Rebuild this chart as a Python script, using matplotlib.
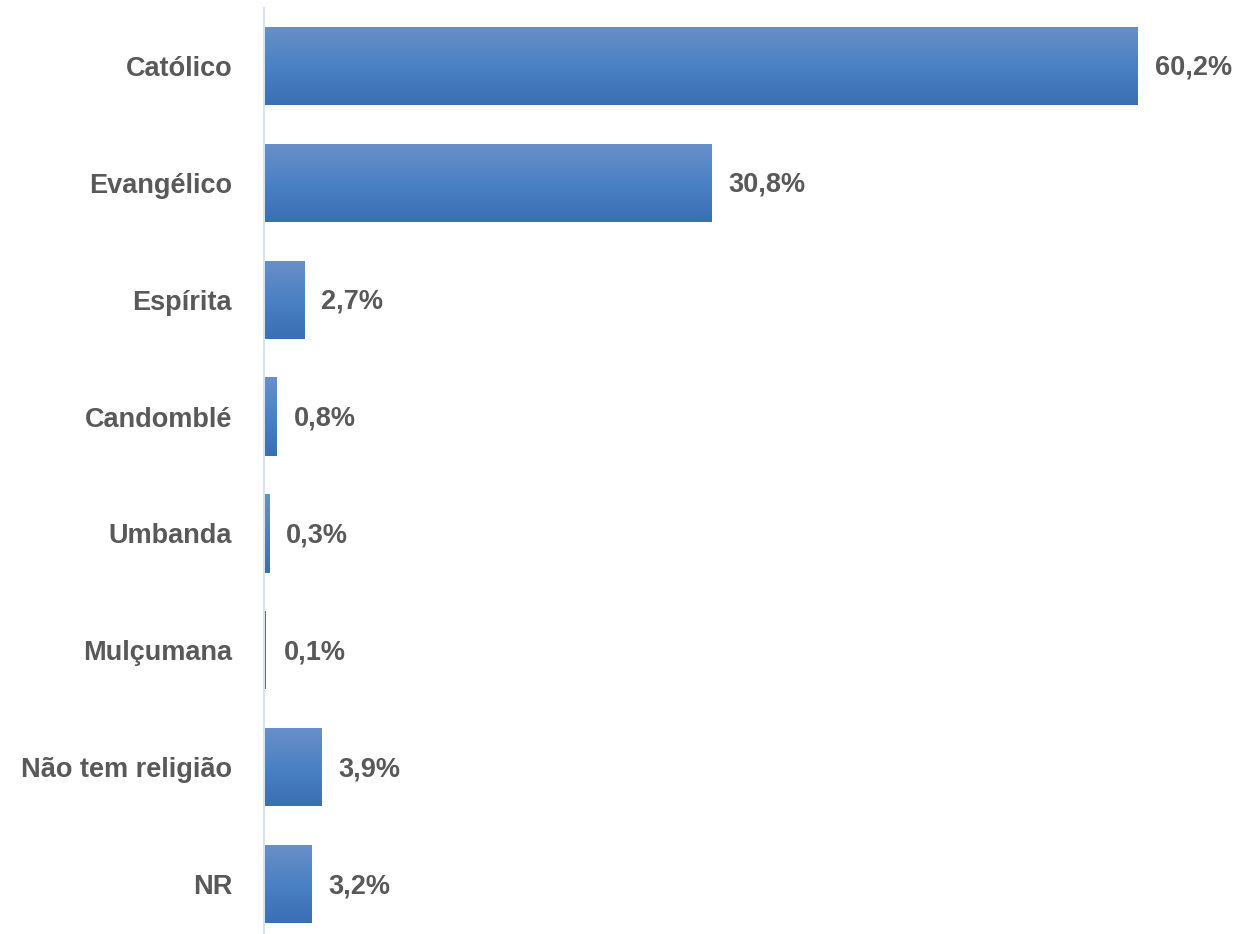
import matplotlib
matplotlib.use("Agg")
import matplotlib.pyplot as plt
import numpy as np
from matplotlib import font_manager
from matplotlib.colors import LinearSegmentedColormap

categories = ["Católico", "Evangélico", "Espírita", "Candomblé", "Umbanda",
              "Mulçumana", "Não tem religião", "NR"]
values = [60.2, 30.8, 2.7, 0.8, 0.3, 0.1, 3.9, 3.2]
value_labels = ["60,2%", "30,8%", "2,7%", "0,8%", "0,3%", "0,1%", "3,9%", "3,2%"]

names = {f.name for f in font_manager.fontManager.ttflist}
fam = ["Liberation Sans Narrow"] if "Liberation Sans Narrow" in names else ["Liberation Sans", "DejaVu Sans"]
plt.rcParams["font.family"] = fam + ["DejaVu Sans"]
FS = 19.5

W, H = 1237, 934
fig = plt.figure(figsize=(W / 100, H / 100), dpi=100)
left_px, top_px = 264, 7.5
ax = fig.add_axes([left_px / W, 0, (W - left_px) / W, (H - top_px) / H])

y = np.arange(len(categories))
bars = ax.barh(y, values, height=0.67, color="#3f75ba", linewidth=0, zorder=3)

cmap = LinearSegmentedColormap.from_list("g", ["#6a8fc8", "#4b82c5", "#3a6fb2"])
grad = np.linspace(0, 1, 256).reshape(-1, 1)
for b in bars:
    x0, y0 = b.get_x(), b.get_y()
    w, h = b.get_width(), b.get_height()
    if w * 14.5 < 3:
        continue
    im = ax.imshow(grad, cmap=cmap, aspect="auto", extent=(x0, x0 + w, y0 + h, y0),
                   interpolation="bilinear", zorder=4)
    im.set_clip_path(b)

ax.set_xlim(-1 / 14.5, (W - left_px - 1) / 14.5)
ax.set_ylim(7 + (H - 884) / 117, -0.5)

for yi, v, lab in zip(y, values, value_labels):
    ax.annotate(lab, (v, yi), xytext=(17, -2), textcoords="offset pixels",
                va="center", ha="left", fontsize=FS, fontweight="bold", color="#595959")

ax.set_yticks(y)
ax.set_yticklabels(categories, fontsize=FS, fontweight="bold", color="#595959")
ax.tick_params(axis="y", length=0, pad=23)
ax.set_xticks([])
for s in ["top", "right", "bottom"]:
    ax.spines[s].set_visible(False)
ax.spines["left"].set_color("#d6e2f0")
ax.spines["left"].set_linewidth(1.5)
ax.spines["left"].set_zorder(1)

fig.savefig("out.png", dpi=100)
